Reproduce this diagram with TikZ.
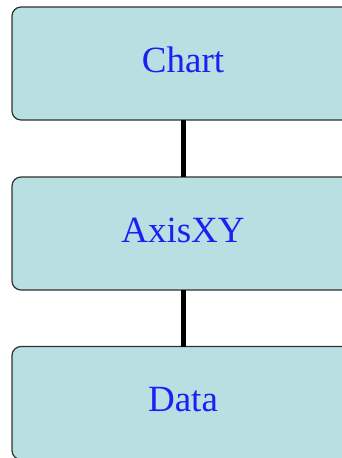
\documentclass[tikz,border=0pt]{standalone}
\usepackage{fontspec}
\setmainfont{Liberation Serif}
\definecolor{boxfill}{HTML}{B8DFE2}
\definecolor{boxtext}{HTML}{1E1EF5}
\definecolor{boxline}{HTML}{303030}
\begin{document}
\begin{tikzpicture}[x=1pt,y=-1pt,
  block/.style={draw=boxline, line width=1.2pt, fill=boxfill, rounded corners=9pt,
    minimum width=342pt, minimum height=113pt, inner sep=0pt, outer sep=0pt,
    text height=20pt, text depth=2.5pt,
    text=boxtext, font=\fontsize{37}{40}\selectfont},
  link/.style={draw=black, line width=5pt}]
\useasboundingbox (0,0) rectangle (342,458);
\clip (0,0) rectangle (342,458);
\node[block] (chart) at (183,63.5) {Chart};
\node[block] (axis) at (183,233.5) {AxisXY};
\node[block] (data) at (183,403) {Data};
\draw[link] (chart.south) -- (axis.north);
\draw[link] (axis.south) -- (data.north);
\end{tikzpicture}
\end{document}
